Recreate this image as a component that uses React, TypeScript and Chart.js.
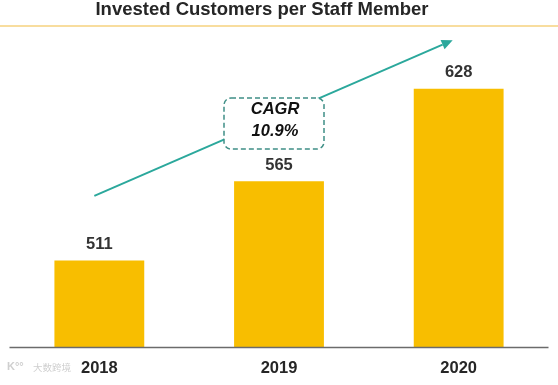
import { useEffect, useRef } from "react";
import { Chart, registerables } from "chart.js";

Chart.register(...registerables);

const TITLE = "Invested Customers per Staff Member";
const categories = ["2018", "2019", "2020"];
const customersPerStaff = [511, 565, 628];
const cagrLines = ["CAGR", "10.9%"];
const watermark = "大数跨境";

const FONT = "'Liberation Sans', Arial, sans-serif";

const decorPlugin = {
  id: "decor",
  afterDatasetsDraw(chart: any) {
    const ctx = chart.ctx;
    const area = chart.chartArea;
    const xs = chart.scales.x;
    const ys = chart.scales.y;
    const W = chart.width;
    ctx.save();

    // title
    ctx.fillStyle = "#262626";
    ctx.font = `bold 18.5px ${FONT}`;
    ctx.textAlign = "center";
    ctx.textBaseline = "middle";
    ctx.fillText(TITLE, 262, 10);

    // top rule
    ctx.strokeStyle = "#F6D27E";
    ctx.lineWidth = 1.5;
    ctx.beginPath();
    ctx.moveTo(0, 26);
    ctx.lineTo(W, 26);
    ctx.stroke();

    // axis line
    ctx.strokeStyle = "#6b6b6b";
    ctx.lineWidth = 1.5;
    ctx.beginPath();
    ctx.moveTo(area.left, area.bottom + 0.5);
    ctx.lineTo(area.right, area.bottom + 0.5);
    ctx.stroke();

    // value labels
    const meta = chart.getDatasetMeta(0);
    ctx.fillStyle = "#333333";
    ctx.font = `bold 16.5px ${FONT}`;
    meta.data.forEach((bar: any, i: number) => {
      ctx.fillText(String(customersPerStaff[i]), bar.x, bar.y - 16);
    });

    // arrow
    const x0 = xs.getPixelForValue(0) - 5;
    const y0 = ys.getPixelForValue(555);
    const x1 = xs.getPixelForValue(2) - 6;
    const y1 = ys.getPixelForValue(661);
    const teal = "#2BA89C";
    const ang = Math.atan2(y1 - y0, x1 - x0);
    const hl = 11;
    const hw = 5;
    const bx = x1 - hl * Math.cos(ang);
    const by = y1 - hl * Math.sin(ang);
    ctx.strokeStyle = teal;
    ctx.lineWidth = 2;
    ctx.beginPath();
    ctx.moveTo(x0, y0);
    ctx.lineTo(bx, by);
    ctx.stroke();
    ctx.fillStyle = teal;
    ctx.beginPath();
    ctx.moveTo(x1, y1);
    ctx.lineTo(bx + hw * Math.sin(ang), by - hw * Math.cos(ang));
    ctx.lineTo(bx - hw * Math.sin(ang), by + hw * Math.cos(ang));
    ctx.closePath();
    ctx.fill();

    // CAGR box
    const bl = 224, bt = 98, bw = 100, bh = 51, r = 7;
    ctx.fillStyle = "#ffffff";
    ctx.strokeStyle = "#3F8F86";
    ctx.lineWidth = 1.5;
    ctx.setLineDash([5, 3]);
    ctx.beginPath();
    ctx.roundRect(bl, bt, bw, bh, r);
    ctx.fill();
    ctx.stroke();
    ctx.setLineDash([]);
    ctx.fillStyle = "#111111";
    ctx.font = `italic bold 16.5px ${FONT}`;
    ctx.fillText(cagrLines[0], bl + bw / 2 + 1, 109);
    ctx.fillText(cagrLines[1], bl + bw / 2 + 1, 131);

    // watermark
    ctx.fillStyle = "#cfcfcf";
    ctx.font = `bold 11px ${FONT}`;
    ctx.textAlign = "left";
    ctx.fillText("K°°", 7, 367);
    ctx.font = `9.5px 'Noto Sans CJK SC', sans-serif`;
    ctx.fillText(watermark, 33, 367);

    ctx.restore();
  },
};

export default function App() {
  const ref = useRef<HTMLCanvasElement>(null);
  useEffect(() => {
    document.body.style.margin = "0";
    const chart = new Chart(ref.current!, {
      type: "bar",
      data: {
        labels: categories,
        datasets: [
          {
            data: customersPerStaff,
            backgroundColor: "#F8BE00",
            borderWidth: 0,
            categoryPercentage: 1,
            barPercentage: 0.5,
          },
        ],
      },
      options: {
        animation: false,
        responsive: false,
        layout: { padding: { left: 9.5, right: 9.5, top: 30, bottom: 0 } },
        plugins: { legend: { display: false }, tooltip: { enabled: false } },
        scales: {
          x: {
            grid: { display: false },
            border: { display: false },
            ticks: {
              color: "#262626",
              font: { family: FONT, size: 16.5, weight: "bold" },
              padding: 4,
            },
            afterFit: (s: any) => {
              s.height = 38;
            },
          },
          y: {
            display: false,
            min: 452,
            max: 668,
          },
        },
      },
      plugins: [decorPlugin],
    });
    return () => chart.destroy();
  }, []);
  return (
    <div style={{ width: 558, height: 385 }}>
      <canvas ref={ref} width={558} height={385} style={{ display: "block" }} />
    </div>
  );
}
